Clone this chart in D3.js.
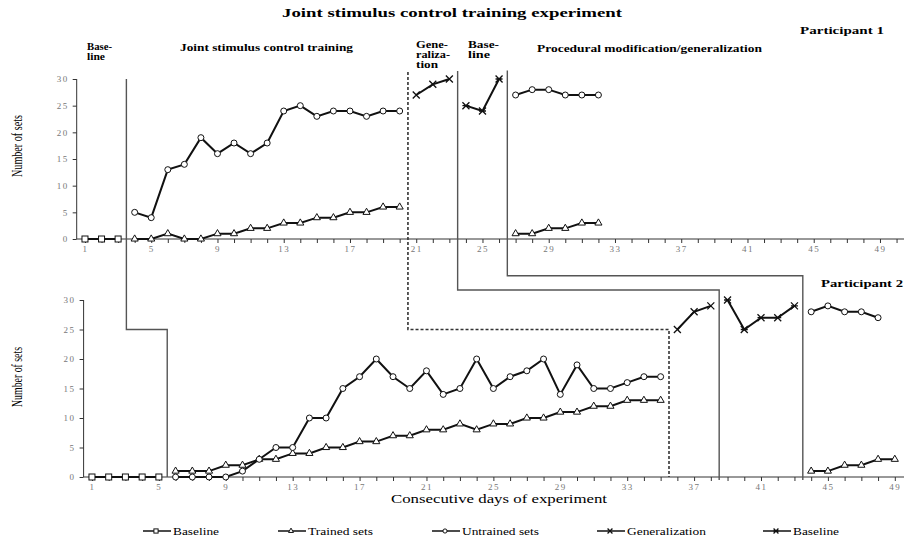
<!DOCTYPE html>
<html>
<head>
<meta charset="utf-8">
<script src="https://cdn.jsdelivr.net/npm/d3@7"></script>
<style>
  body { margin: 0; background: #fff; }
  text { font-family: "Liberation Serif", "DejaVu Serif", serif; }
  .tick text { fill: #777; font-size: 9px; letter-spacing: 1.5px; }
</style>
</head>
<body>
<svg id="chart" width="904" height="540"></svg>
<script>
// participant 1 (top)
const p1BaseDays = [1, 2, 3];
const p1Base = [0, 0, 0];
const p1TrainDays = d3.range(4, 21);
const p1Untrained = [5, 4, 13, 14, 19, 16, 18, 16, 18, 24, 25, 23, 24, 24, 23, 24, 24];
const p1Trained = [0, 0, 1, 0, 0, 1, 1, 2, 2, 3, 3, 4, 4, 5, 5, 6, 6];
const p1GenDays = [21, 22, 23];
const p1Gen = [27, 29, 30];
const p1Base2Days = [24, 25, 26];
const p1Base2 = [25, 24, 30];
const p1ProcDays = [27, 28, 29, 30, 31, 32];
const p1ProcUntrained = [27, 28, 28, 27, 27, 27];
const p1ProcTrained = [1, 1, 2, 2, 3, 3];

// participant 2 (bottom)
const p2BaseDays = [1, 2, 3, 4, 5];
const p2Base = [0, 0, 0, 0, 0];
const p2TrainDays = d3.range(6, 36);
const p2Untrained = [0, 0, 0, 0, 1, 3, 5, 5, 10, 10, 15, 17, 20, 17, 15, 18, 14, 15, 20, 15, 17, 18, 20, 14, 19, 15, 15, 16, 17, 17];
const p2Trained = [1, 1, 1, 2, 2, 3, 3, 4, 4, 5, 5, 6, 6, 7, 7, 8, 8, 9, 8, 9, 9, 10, 10, 11, 11, 12, 12, 13, 13, 13];
const p2GenDays = [36, 37, 38];
const p2Gen = [25, 28, 29];
const p2Base2Days = [39, 40, 41, 42, 43];
const p2Base2 = [30, 25, 27, 27, 29];
const p2ProcDays = [44, 45, 46, 47, 48];
const p2ProcUntrained = [28, 29, 28, 28, 27];
const p2ProcTrainedDays = [44, 45, 46, 47, 48, 49];
const p2ProcTrained = [1, 1, 2, 2, 3, 3];

const yTicks = [0, 5, 10, 15, 20, 25, 30];
const dayTicks = d3.range(1, 51);
const legendItems = ["Baseline", "Trained sets", "Untrained sets", "Generalization", "Baseline"];
const legendMarks = ["square", "triangle", "circle", "cross", "star"];

const svg = d3.select("#chart");

const xTop = d3.scaleLinear().domain([0.5, 50.45]).range([76.7, 904]);
const yTop = d3.scaleLinear().domain([0, 30]).range([239, 79]);
const xBot = d3.scaleLinear().domain([0.5, 49.55]).range([83.6, 904]);
const yBot = d3.scaleLinear().domain([0, 30]).range([477, 300]);

function drawAxes(x, y, maxDay) {
  const g = svg.append("g");
  g.append("g")
    .attr("transform", "translate(0," + y(0) + ")")
    .call(d3.axisBottom(x)
      .tickValues(dayTicks.filter(d => d <= maxDay))
      .tickSize(4)
      .tickPadding(3)
      .tickFormat(d => (d - 1) % 4 === 0 ? d : ""))
    .call(a => a.select(".domain").attr("d", "M" + x.range()[0] + ",0H" + x.range()[1]).attr("stroke", "#333"))
    .call(a => a.selectAll(".tick line").attr("stroke", "#333"));
  g.append("g")
    .attr("transform", "translate(" + x.range()[0] + ",0)")
    .call(d3.axisLeft(y).tickValues(yTicks).tickSize(4).tickPadding(4))
    .call(a => a.select(".domain").attr("d", "M0," + y(0) + "V" + y(30)).attr("stroke", "#333"))
    .call(a => a.selectAll(".tick line").attr("stroke", "#333"));
}

drawAxes(xTop, yTop, 50);
drawAxes(xBot, yBot, 49);

// phase change lines
function path(points, dashed) {
  svg.append("path")
    .attr("d", d3.line()(points))
    .attr("fill", "none")
    .attr("stroke", dashed ? "#333" : "#555")
    .attr("stroke-width", dashed ? 1.6 : 1.4)
    .attr("stroke-dasharray", dashed ? "3,2" : null);
}
path([[xTop(3.5), yTop(30)], [xTop(3.5), yBot(25)], [xBot(5.5), yBot(25)], [xBot(5.5), yBot(0)]]);
path([[xTop(20.5), yTop(31.3)], [xTop(20.5), yBot(25)], [xBot(35.5), yBot(25)], [xBot(35.5), yBot(0)]], true);
path([[xTop(23.5), yTop(31.5)], [xTop(23.5), yBot(31.7)], [xBot(38.5), yBot(31.7)], [xBot(38.5), yBot(-0.5)]]);
path([[xTop(26.5), yTop(31.6)], [xTop(26.5), yBot(34.1)], [xBot(43.5), yBot(34.1)], [xBot(43.5), yBot(-0.5)]]);

function marker(g, type, cx, cy, k) {
  k = k || 1;
  if (type === "circle") {
    g.append("circle").attr("cx", cx).attr("cy", cy).attr("r", 3 * k)
      .attr("fill", "#fff").attr("stroke", "#111").attr("stroke-width", 1);
  } else if (type === "square") {
    g.append("rect").attr("x", cx - 3 * k).attr("y", cy - 3 * k).attr("width", 6 * k).attr("height", 6 * k)
      .attr("fill", "#fff").attr("stroke", "#111").attr("stroke-width", 1);
  } else if (type === "triangle") {
    g.append("path").attr("d", d3.symbol(d3.symbolTriangle, 22 * k * k)())
      .attr("transform", "translate(" + cx + "," + cy + ")")
      .attr("fill", "#fff").attr("stroke", "#111").attr("stroke-width", 1);
  } else {
    const s = 3.5 * k;
    let d = "M" + (cx - s) + "," + (cy - s) + "L" + (cx + s) + "," + (cy + s) +
      "M" + (cx - s) + "," + (cy + s) + "L" + (cx + s) + "," + (cy - s);
    if (type === "star") d += "M" + (cx - s) + "," + cy + "L" + (cx + s) + "," + cy;
    g.append("path").attr("d", d).attr("stroke", "#111").attr("stroke-width", 1.3);
  }
}

function series(x, y, days, vals, type) {
  const pts = days.map((d, i) => [x(d), y(vals[i])]);
  const g = svg.append("g");
  g.append("path").attr("d", d3.line()(pts))
    .attr("fill", "none").attr("stroke", "#111").attr("stroke-width", 2);
  pts.forEach(p => marker(g, type, p[0], p[1]));
}

series(xTop, yTop, p1BaseDays, p1Base, "square");
series(xTop, yTop, p1TrainDays, p1Trained, "triangle");
series(xTop, yTop, p1TrainDays, p1Untrained, "circle");
series(xTop, yTop, p1GenDays, p1Gen, "cross");
series(xTop, yTop, p1Base2Days, p1Base2, "star");
series(xTop, yTop, p1ProcDays, p1ProcTrained, "triangle");
series(xTop, yTop, p1ProcDays, p1ProcUntrained, "circle");

series(xBot, yBot, p2BaseDays, p2Base, "square");
series(xBot, yBot, p2TrainDays, p2Trained, "triangle");
series(xBot, yBot, p2TrainDays, p2Untrained, "circle");
series(xBot, yBot, p2GenDays, p2Gen, "cross");
series(xBot, yBot, p2Base2Days, p2Base2, "star");
series(xBot, yBot, p2ProcTrainedDays, p2ProcTrained, "triangle");
series(xBot, yBot, p2ProcDays, p2ProcUntrained, "circle");

// texts, stretched to the widths seen in the picture
function label(x, y, str, size, len, bold) {
  return svg.append("text").attr("x", x).attr("y", y)
    .attr("font-size", size).attr("font-weight", bold ? "bold" : null)
    .attr("textLength", len).attr("lengthAdjust", "spacingAndGlyphs")
    .text(str);
}
label(282, 17, "Joint stimulus control training experiment", 13, 340, true);
label(800, 34, "Participant  1", 11, 84, true);
label(821, 287, "Participant 2", 11, 82, true);
label(87, 50, "Base-", 10, 25, true);
label(87, 60, "line", 10, 18, true);
label(180, 51, "Joint stimulus control training", 10, 173, true);
label(416, 48, "Gene-", 10, 32, true);
label(416, 58, "raliza-", 10, 34, true);
label(416, 68, "tion", 10, 22, true);
label(468, 48, "Base-", 10, 31, true);
label(468, 58, "line", 10, 22, true);
label(537, 52, "Procedural modification/generalization", 10, 225, true);

svg.append("text").attr("transform", "translate(22,177) rotate(-90)")
  .attr("font-size", 14).attr("textLength", 62).attr("lengthAdjust", "spacingAndGlyphs")
  .text("Number of sets");
svg.append("text").attr("transform", "translate(22,407) rotate(-90)")
  .attr("font-size", 14).attr("textLength", 60).attr("lengthAdjust", "spacingAndGlyphs")
  .text("Number of sets");
label(391, 503, "Consecutive days of experiment", 13, 216, false);

// legend
const legX = [143, 278, 432, 597, 763];
const legW = [46, 65, 77, 79, 46];
const leg = svg.append("g");
legendItems.forEach((name, i) => {
  const lx = legX[i], ly = 531;
  leg.append("line").attr("x1", lx).attr("x2", lx + 28).attr("y1", ly).attr("y2", ly)
    .attr("stroke", "#111").attr("stroke-width", 1.5);
  marker(leg, legendMarks[i], lx + 13, ly, 0.7);
  leg.append("text").attr("x", lx + 30).attr("y", ly + 3.5).attr("font-size", 10)
    .attr("textLength", legW[i]).attr("lengthAdjust", "spacingAndGlyphs").text(name);
});
</script>
</body>
</html>
